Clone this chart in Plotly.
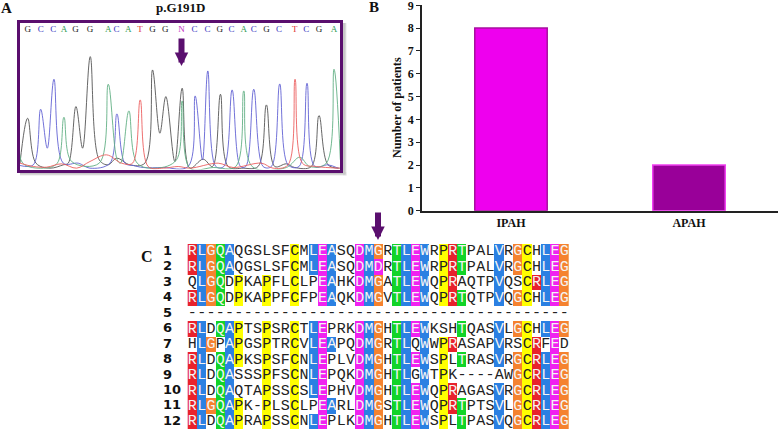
import plotly.graph_objects as go

W, H = 778, 430

# panel A: chromatogram (scan position / signal height)
base_calls = list("GCCAGGACATGGNCCGCACGCTCGA")
base_pos = [83, 122, 160, 192, 227, 270, 325, 350, 385, 420, 458, 496, 545, 584, 623, 660, 695, 732, 762, 800, 838, 885, 920, 958, 1003]

g_scan = [60, 83, 108, 150, 190, 205, 228, 248, 271, 298, 325, 350, 390, 435, 458, 480, 498, 525, 547, 570, 610, 638, 662, 685, 730, 775, 800, 825, 860, 885, 935, 958, 985, 1020]
g_signal = [15, 150, 15, 0, 10, 15, 185, 60, 335, 25, 10, 30, 10, 15, 295, 105, 215, 20, 240, 0, 27, 5, 222, 5, 0, 5, 190, 5, 13, 2, 5, 158, 10, 0]

c_scan = [60, 100, 122, 142, 162, 190, 235, 270, 330, 351, 375, 400, 430, 490, 565, 586, 608, 624, 648, 672, 697, 722, 738, 762, 790, 815, 840, 865, 898, 922, 945, 985, 1015]
c_signal = [8, 10, 177, 60, 267, 15, 15, 0, 15, 163, 15, 8, 2, 2, 5, 217, 25, 292, 5, 5, 235, 5, 5, 237, 5, 5, 253, 10, 5, 255, 5, 10, 0]

a_scan = [58, 68, 130, 172, 192, 215, 298, 325, 352, 362, 387, 412, 470, 530, 547, 570, 640, 708, 732, 757, 860, 900, 930, 980, 1003, 1022]
a_signal = [95, 15, 0, 15, 153, 20, 15, 252, 25, 15, 172, 15, 0, 25, 202, 0, 2, 5, 232, 5, 2, 33, 5, 15, 297, 25]

t_scan = [60, 100, 140, 185, 230, 270, 320, 365, 398, 421, 445, 490, 535, 570, 655, 700, 785, 820, 865, 886, 908, 950, 1020]
t_signal = [15, 5, 3, 13, 0, 20, 40, 15, 15, 205, 5, 0, 5, 0, 15, 2, 15, 0, 10, 267, 15, 5, 0]

# panel B
groups = ["IPAH", "APAH"]
patients = [8, 2]

# panel C: alignment, and which residues are shaded (x) in each row
seqs = [
    "RLGQAQGSLSFCMLEASQDMGRTLEWRPRTPALVRGCHLEG",
    "RLGQAQGSLSFCMLEASQDMDRTLEWRPRTPALVRGCHLEG",
    "QLGQDPKAPFLCLPEAHKDMGATLEWQPRAQTPVQSCRLEG",
    "RLGQDPKAPPFCFPEAQKDMGVTLEWQPRTQTPVQGCHLEG",
    "-----------------------------------------",
    "RLDQAPTSPSRCTLEPRKDMGHTLEWKSHTQASVLGCHLEG",
    "HLGPAPGSPTRCVLEAPQDMGRTLQWWPRASAPVRSCRFED",
    "RLDQAPKSPSFCNLEPLVDMGHTLEWSPLTRASVRGCRLEG",
    "RLDQASSSPFSCNLEPQKDMGHTLGWTPK----AWGCRLEG",
    "RLDQAQTAPSSCSLEPHVDMGHTLEWQPRAGASVRGCRLEG",
    "RLGQAPK-PLSCLPEARLDMGSTLEWQPRTPTSVLGCRLEG",
    "RLDQAPRAPSSCNLEPLKDMGHTLEWSPLTPASVQGCRLEG",
]
shaded = [
    "xxxxx......x.xxx..xxx.xxxx.xxx...x.xx.xxx",
    "xxxxx......x.xxx..xxx.xxxx.xxx...x.xx.xxx",
    ".xxx.x..x..x..xx..xxx.xxxx.xx....x..xxxxx",
    "xxxx.x..x..x..xx..xxx.xxxx.xxx...x.xx.xxx",
    ".........................................",
    "xx.xxx..x..x.xx...xxx.xxxx...x...x.xx.xxx",
    ".xx.xx..x..x.xxx..xxx.xx.x.xx....x..xx.x.",
    "xx.xxx..x..x.xx...xxx.xxxx.x.x...x.xxxxxx",
    "xx.xx...x..x.xx...xxx.xx.x.x.......xxxxxx",
    "xx.xx...x..x.xx...xxx.xxxx.xx....x.xxxxxx",
    "xxxxxx..x..x..xx..xxx.xxxx.xxx...x.xxxxxx",
    "xx.xxx..x..x.xx...xxx.xxxx.x.x...x.xxxxxx",
]
row_names = [str(i + 1) for i in range(len(seqs))]

# residue -> shading group
groups_aa = {"R": 0, "L": 1, "A": 1, "M": 1, "V": 1, "W": 1, "G": 2, "Q": 3, "T": 3, "D": 4, "E": 4, "P": 5, "C": 5}
aa_colors = ["#e8222c", "#2b80e2", "#f5822f", "#12d428", "#f022f0", "#ffff00"]

base_colors = {"G": "#222222", "C": "#3030c0", "A": "#2f9a50", "T": "#e03030", "N": "#c030c0"}
PURPLE = "#5a0f6e"
SERIF = "Liberation Serif"


def px_x(v):
    return v / W


def px_y(v):
    return 1 - v / H


fig = go.Figure()

# chromatogram
for scan, signal, color in [
    (g_scan, g_signal, "#555555"),
    (c_scan, c_signal, "#6262d4"),
    (a_scan, a_signal, "#62b084"),
    (t_scan, t_signal, "#ec6060"),
]:
    fig.add_trace(go.Scatter(x=scan, y=signal, mode="lines", xaxis="x", yaxis="y",
                             line=dict(color=color, width=0.9, shape="spline", smoothing=1)))

fig.add_trace(go.Scatter(x=base_pos, y=[417] * len(base_pos), mode="text", text=base_calls,
                         xaxis="x", yaxis="y",
                         textfont=dict(family=SERIF, size=9, color=[base_colors[b] for b in base_calls])))

# bars
fig.add_trace(go.Bar(x=groups, y=patients, xaxis="x2", yaxis="y2", width=0.407,
                     marker=dict(color=["#ee00ee", "#990099"],
                                 line=dict(color=["#a8109f", "#f040f0"], width=1.5))))

# alignment
z = [[groups_aa[a] if m == "x" else None for a, m in zip(seq, mask)] for seq, mask in zip(seqs, shaded)]
n_col = len(seqs[0])
scale = []
for i, c in enumerate(aa_colors):
    scale += [[i / len(aa_colors), c], [(i + 1) / len(aa_colors), c]]
fig.add_trace(go.Heatmap(z=z, xaxis="x3", yaxis="y3", colorscale=scale, zmin=-0.5, zmax=5.5,
                         showscale=False, hoverinfo="skip"))

light_x, light_y, light_t, dark_x, dark_y, dark_t = [], [], [], [], [], []
for r, (seq, mask) in enumerate(zip(seqs, shaded)):
    for c, (a, m) in enumerate(zip(seq, mask)):
        if m == "x" and groups_aa[a] != 5:
            light_x.append(c)
            light_y.append(r)
            light_t.append(a)
        else:
            dark_x.append(c)
            dark_y.append(r)
            dark_t.append(a)

for xs, ys, ts, color in [(light_x, light_y, light_t, "#f4f4f4"), (dark_x, dark_y, dark_t, "#222222")]:
    fig.add_trace(go.Scatter(x=xs, y=ys, text=ts, mode="text", xaxis="x3", yaxis="y3",
                             textfont=dict(family="Liberation Mono", size=15, color=color)))

fig.add_trace(go.Scatter(x=[-3.15] * len(row_names), y=list(range(len(row_names))), text=row_names,
                         mode="text", textposition="middle right", xaxis="x3", yaxis="y3",
                         textfont=dict(family="DejaVu Sans", size=13, color="#111111", weight="bold")))


def label(text, x, y, size, **kw):
    fig.add_annotation(text=text, xref="paper", yref="paper", x=px_x(x), y=px_y(y), showarrow=False,
                       font=dict(family=SERIF, size=size, color="#111111", weight="bold"),
                       xanchor="center", yanchor="middle", **kw)


label("A", 6, 8, 15)
label("B", 374, 7, 15)
label("C", 147, 256, 16)
label("p.G191D", 180, 7, 13)
label("Number of patients", 397, 108, 12.2, textangle=-90)

# purple arrows
for ax_x, y0, y1 in [(181.5, 37, 66), (378, 211, 240)]:
    fig.add_annotation(x=px_x(ax_x), y=px_y(y1), ax=0, ay=y0 - y1, xref="paper", yref="paper",
                       text="", showarrow=True, arrowhead=2,
                       arrowsize=0.45, arrowwidth=6, arrowcolor=PURPLE)

# soft shadow along the right and bottom of the frame of panel A
for off, col in [(3.5, "#e8e8e8"), (2.5, "#c8c8c8")]:
    fig.add_shape(type="rect", xref="paper", yref="paper", layer="below", line_width=0, fillcolor=col,
                  x0=px_x(20), x1=px_x(343 + off), y0=px_y(172 + off), y1=px_y(172))
    fig.add_shape(type="rect", xref="paper", yref="paper", layer="below", line_width=0, fillcolor=col,
                  x0=px_x(343), x1=px_x(343 + off), y0=px_y(172 + off), y1=px_y(23))

fig.update_layout(
    width=W, height=H, margin=dict(l=0, r=0, t=0, b=0), showlegend=False,
    paper_bgcolor="white", plot_bgcolor="rgba(0,0,0,0)",
    bargap=0.59,
    xaxis=dict(domain=[px_x(20), px_x(340)], range=[60, 1021], anchor="y", showgrid=False, zeroline=False,
               automargin=False, showticklabels=False, ticks="", showline=True, mirror=True,
               linecolor=PURPLE, linewidth=3),
    yaxis=dict(domain=[px_y(169.5), px_y(23)], range=[-4, 436], anchor="x", showgrid=False, zeroline=False,
               automargin=False, showticklabels=False, ticks="", showline=True, mirror=True,
               linecolor=PURPLE, linewidth=3),
    xaxis2=dict(domain=[px_x(422), 1], anchor="y2", showgrid=False, zeroline=False, showline=True,
                automargin=False, linecolor="#222222", linewidth=1.5, ticks="", range=[-0.5, 1.5],
                tickfont=dict(family=SERIF, size=12, color="#111111", weight="bold")),
    yaxis2=dict(domain=[px_y(210.7), px_y(5.3)], anchor="x2", range=[0, 9], dtick=1, showgrid=False, zeroline=False,
                automargin=False, showline=True, linecolor="#222222", linewidth=1.5, ticks="outside", ticklen=4,
                tickwidth=1.2, tickcolor="#222222", ticklabeloverflow="allow",
                tickfont=dict(family=SERIF, size=12, color="#111111", weight="bold")),
    xaxis3=dict(domain=[px_x(187.7 - 2.7 * 9.3), px_x(569)], range=[-3.2, n_col - 0.5], anchor="y3",
                visible=False, automargin=False),
    yaxis3=dict(domain=[px_y(429.4), px_y(244)], range=[len(seqs) - 0.5, -0.5], anchor="x3",
                visible=False, automargin=False),
)

fig.write_html("out.html", config={"displayModeBar": False}, post_script="document.body.style.margin='0';")
